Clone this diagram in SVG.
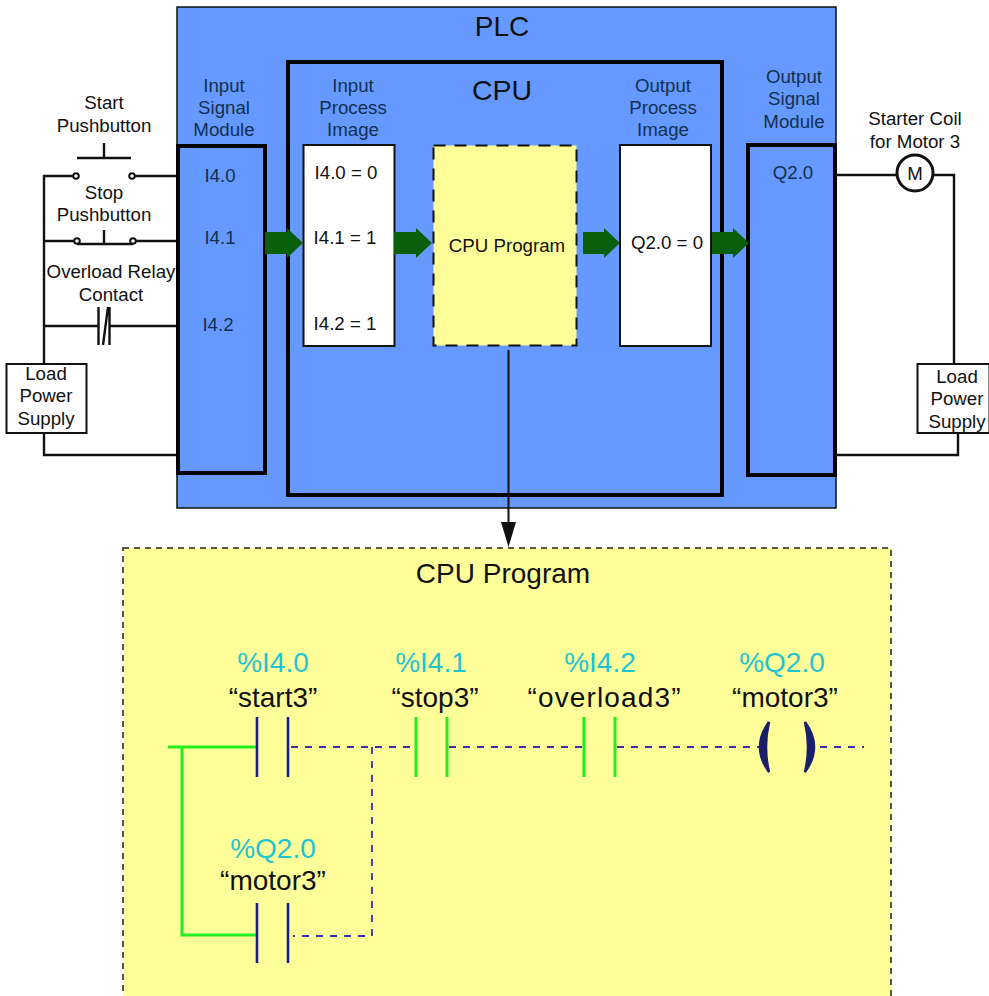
<svg xmlns="http://www.w3.org/2000/svg" width="989" height="996" viewBox="0 0 989 996">
<style>
text{font-family:"Liberation Sans",Arial,sans-serif;text-anchor:middle;fill:#111}
.s{font-size:18.700px}.l{font-size:28px}.m{font-size:28.500px}
.blue{fill:#11304f}
.c{fill:#1fc4d2}
.w{fill:none;stroke:#111;stroke-width:2.4}
.g{fill:#0a5f0a}
.bl{stroke:#1a1f8c;stroke-width:2.600;fill:none}
.gr{stroke:#22ee22;stroke-width:3;fill:none}
.d{stroke:#3a2fb0;stroke-width:1.800;stroke-dasharray:7 7;fill:none}
</style>
<rect width="989" height="996" fill="#fff"/>
<g id="plc"><rect x="177" y="7" width="659" height="501" fill="#6699ff" stroke="#111" stroke-width="1.500"/><text class="l" x="502" y="36">PLC</text></g>
<g id="cpu"><rect x="288" y="62" width="434" height="433" fill="#6699ff" stroke="#000" stroke-width="4"/><text class="m" x="502" y="100">CPU</text></g>
<g id="input-module"><rect x="178" y="146" width="87" height="327" fill="#6699ff" stroke="#000" stroke-width="4"/>
<text class="s blue" x="224" y="92">Input</text><text class="s blue" x="224" y="114">Signal</text><text class="s blue" x="224" y="136">Module</text>
<text class="s blue" x="220" y="182">I4.0</text><text class="s blue" x="220" y="244">I4.1</text><text class="s blue" x="218" y="331">I4.2</text></g>
<g id="input-image"><rect x="303.500" y="145" width="91" height="201" fill="#fff" stroke="#111" stroke-width="2"/>
<text class="s blue" x="353" y="92">Input</text><text class="s blue" x="353" y="114">Process</text><text class="s blue" x="353" y="136">Image</text>
<text class="s" x="346" y="179">I4.0 = 0</text><text class="s" x="345" y="244">I4.1 = 1</text><text class="s" x="345" y="330">I4.2 = 1</text></g>
<g id="cpu-program-box"><rect x="433.500" y="145.500" width="143" height="200" fill="#ffff99" stroke="#111" stroke-width="2" stroke-dasharray="12 9"/><text class="s" x="507" y="252">CPU Program</text></g>
<g id="output-image"><rect x="620" y="145" width="91" height="201" fill="#fff" stroke="#111" stroke-width="2"/>
<text class="s blue" x="663" y="92">Output</text><text class="s blue" x="663" y="114">Process</text><text class="s blue" x="663" y="136">Image</text>
<text class="s" x="667" y="249">Q2.0 = 0</text></g>
<g id="output-module"><rect x="748" y="145" width="87" height="330" fill="#6699ff" stroke="#000" stroke-width="4"/>
<text class="s blue" x="794" y="83">Output</text><text class="s blue" x="794" y="105">Signal</text><text class="s blue" x="794" y="128">Module</text><text class="s blue" x="793" y="179">Q2.0</text></g>
<g id="start-pushbutton"><text class="s" x="104" y="109">Start</text><text class="s" x="104" y="132">Pushbutton</text>
<path class="w" d="M77 158H131M104 158V143"/><circle cx="76" cy="176" r="2.800" fill="#fff" stroke="#111" stroke-width="2"/><circle cx="132" cy="176" r="2.800" fill="#fff" stroke="#111" stroke-width="2"/></g>
<g id="stop-pushbutton"><text class="s" x="104" y="199">Stop</text><text class="s" x="104" y="221">Pushbutton</text>
<path class="w" d="M77 244H133M104 244V230"/><circle cx="77" cy="241" r="2.800" fill="#fff" stroke="#111" stroke-width="2"/><circle cx="133" cy="241" r="2.800" fill="#fff" stroke="#111" stroke-width="2"/></g>
<g id="overload-contact"><text class="s" x="111" y="278">Overload Relay</text><text class="s" x="111" y="301">Contact</text>
<path class="w" d="M98.500 307V345M109.500 307V345M103 345L108 307"/></g>
<g id="supply-left"><rect x="6.500" y="364" width="80" height="69" fill="#fff" stroke="#111" stroke-width="2"/><text class="s" x="46" y="380">Load</text><text class="s" x="46" y="402">Power</text><text class="s" x="46" y="425">Supply</text></g>
<g id="coil"><text class="s" x="915" y="125">Starter Coil</text><text class="s" x="915" y="148">for Motor 3</text><circle cx="915" cy="173" r="18" fill="#fff" stroke="#111" stroke-width="3"/><text class="s" x="915" y="180">M</text></g>
<g id="supply-right"><rect x="917.500" y="364" width="72" height="69" fill="#fff" stroke="#111" stroke-width="2"/><text class="s" x="957" y="383">Load</text><text class="s" x="957" y="405">Power</text><text class="s" x="957" y="428">Supply</text></g>
<g id="connectors">
<path class="w" d="M44 364V176H73M135 176H176M44 241H74M136 241H176M44 326H98M110 326H176M44 433V455H176M835 175H896M934 175H954V364M958 433V455H835"/>
<path d="M265 232H287V228L303 243L287 258V254H265Z" class="g"/>
<path d="M394 232H416V228L432 243L416 258V254H394Z" class="g"/>
<path d="M583 232H604V228L620 243L604 258V254H583Z" class="g"/>
<path d="M712 232H733V228L749 243L733 258V254H712Z" class="g"/>
<path d="M508.500 350V528" stroke="#111" stroke-width="2"/><path d="M501 522L508.500 547L516 522Z" fill="#111"/>
</g>
<g id="cpu-program"><rect x="123" y="548" width="768" height="460" fill="#ffff99" stroke="#222" stroke-width="1.500" stroke-dasharray="6 5"/><text class="l" x="503" y="583">CPU Program</text></g>
<g id="ladder-labels">
<text class="l c" x="273" y="672">%I4.0</text><text class="l" x="273" y="707">“start3”</text>
<text class="l c" x="431" y="672">%I4.1</text><text class="l" x="435" y="707">“stop3”</text>
<text class="l c" x="600" y="672">%I4.2</text><text class="l" x="604" y="707" textLength="153">“overload3”</text>
<text class="l c" x="782" y="672">%Q2.0</text><text class="l" x="785" y="707">“motor3”</text>
<text class="l c" x="273" y="858">%Q2.0</text><text class="l" x="273" y="890">“motor3”</text>
</g>
<g id="ladder-rungs">
<path class="gr" d="M168 747H257M182 747V935H257"/>
<path class="d" d="M291 747H415M449 747H584M617 747H760M820 747H864M372 747V936H293"/>
<path class="bl" d="M257 717V777M288 717V777M257 903V963M288 903V963"/>
<path class="gr" d="M416 717V777M447 717V777M584 717V777M615 717V777"/>
<path d="M769 722Q751 747 769 772Q763 747 769 722ZM805 722Q823 747 805 772Q811 747 805 722Z" fill="#1a1f6c" stroke="#1a1f6c" stroke-width="2.500"/>
</g>
</svg>
